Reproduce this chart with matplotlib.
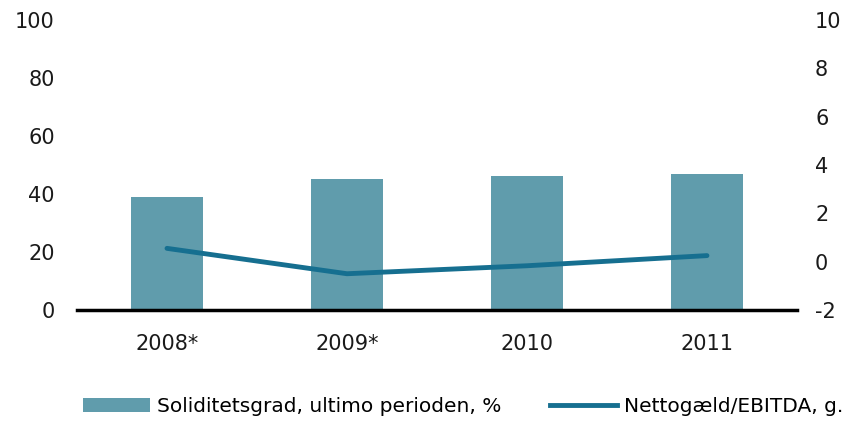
import matplotlib
matplotlib.use("Agg")
import matplotlib.pyplot as plt
from matplotlib.lines import Line2D
from matplotlib.patches import Patch

plt.rcParams['font.family'] = ['DejaVu Sans']
plt.rcParams['axes.unicode_minus'] = False

years = ["2008*", "2009*", "2010", "2011"]
solid = [39.1, 45.2, 46.2, 47.0]
netdebt = [0.55, -0.5, -0.17, 0.25]
left_ticks = [0, 20, 40, 60, 80, 100]
right_ticks = [-2, 0, 2, 4, 6, 8, 10]

bar_color = "#609CAC"
line_color = "#166F90"

fig = plt.figure(figsize=(8.48, 4.21), dpi=100)
ax = fig.add_axes([0.0908, 0.2637, 0.849, 0.6888])
ax2 = ax.twinx()

x = list(range(len(years)))
ax.bar(x, solid, width=0.4, color=bar_color, zorder=2)
ax2.plot(x, netdebt, color=line_color, linewidth=3.5, solid_capstyle='round', zorder=3)

ax.set_xlim(-0.5, 3.5)
ax.set_ylim(0, 100)
ax2.set_ylim(-2, 10)
ax.set_yticks(left_ticks)
ax2.set_yticks(right_ticks)
ax.set_xticks(x)
ax.set_xticklabels(years)

for a in (ax, ax2):
    for s in ("top", "left", "right", "bottom"):
        a.spines[s].set_visible(False)
    a.tick_params(length=0, labelsize=15, labelcolor="#1a1a1a")
ax.spines["bottom"].set_visible(True)
ax.spines["bottom"].set_linewidth(2.5)
ax.spines["bottom"].set_color("black")
ax.tick_params(axis='x', pad=17)
ax.tick_params(axis='y', pad=16)
ax2.tick_params(axis='y', pad=13)

handles = [Patch(facecolor=bar_color, edgecolor='none'),
           Line2D([0], [0], color=line_color, linewidth=3.5)]
labels = ["Soliditetsgrad, ultimo perioden, %", "Nettogæld/EBITDA, g."]
fig.legend(handles, labels, loc='center', bbox_to_anchor=(0.546, 0.034),
           ncol=2, frameon=False, fontsize=14.5, handlelength=3.33,
           handletextpad=0.35, columnspacing=2.4, borderpad=0, borderaxespad=0)

fig.savefig("out.png", dpi=100)
